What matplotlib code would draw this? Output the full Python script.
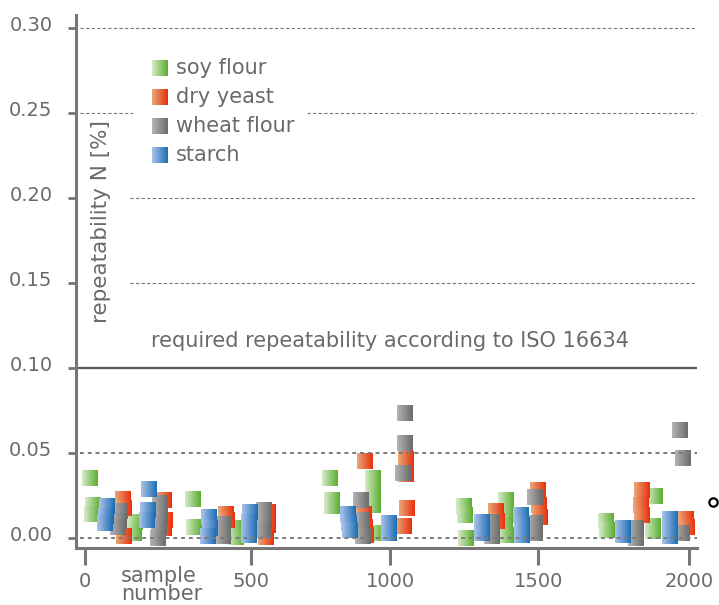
import numpy as np
import matplotlib
matplotlib.use("Agg")
import matplotlib.pyplot as plt
import matplotlib.transforms as mtransforms
from matplotlib.path import Path
from matplotlib.collections import PathCollection
from matplotlib.colors import to_rgb
from matplotlib.lines import Line2D

# values: sample number and repeatability N [%]
soy_x = [15, 24, 21, 150, 148, 325, 328, 452, 455, 784, 791, 791, 939, 939, 939, 950,
         1250, 1253, 1257, 1392, 1392, 1389, 1392, 1725, 1728, 1887, 1881, 1881]
soy_y = [0.0353, 0.0194, 0.0141, 0.0094, 0.0029, 0.0229, 0.0065, 0.0059, 0.0006,
         0.0353, 0.0224, 0.0188, 0.0353, 0.0282, 0.0194, 0.0029, 0.0188, 0.0135, 0.0000,
         0.0224, 0.0141, 0.0076, 0.0018, 0.0100, 0.0047, 0.0247, 0.0071, 0.0041]

yeast_x = [114, 117, 117, 238, 241, 238, 425, 428, 561, 561, 554, 910, 906, 910, 914,
           1054, 1054, 1057, 1047, 1358, 1361, 1500, 1503, 1507, 1844, 1841, 1844, 1990, 1993]
yeast_y = [0.0229, 0.0176, 0.0012, 0.0224, 0.0106, 0.0059, 0.0141, 0.0106, 0.0153,
           0.0076, 0.0006, 0.0453, 0.0141, 0.0065, 0.0018, 0.0465, 0.0376, 0.0176,
           0.0071, 0.0159, 0.0100, 0.0282, 0.0194, 0.0124, 0.0282, 0.0194, 0.0135,
           0.0112, 0.0065]

wheat_x = [105, 102, 99, 226, 226, 223, 220, 416, 416, 547, 547, 543, 896, 899, 903,
           1051, 1051, 1044, 1345, 1345, 1490, 1490, 1490, 1970, 1980, 1825, 1825, 1977]
wheat_y = [0.0159, 0.0100, 0.0065, 0.0206, 0.0135, 0.0065, 0.0000, 0.0082, 0.0012,
           0.0165, 0.0106, 0.0047, 0.0224, 0.0106, 0.0012, 0.0735, 0.0559, 0.0382,
           0.0094, 0.0012, 0.0241, 0.0088, 0.0029, 0.0635, 0.0471, 0.0059, 0.0000, 0.0029]

starch_x = [66, 63, 60, 193, 190, 187, 373, 377, 370, 497, 494, 494, 849, 853, 856,
            996, 996, 1311, 1311, 1443, 1446, 1446, 1781, 1781, 1937, 1937, 1937]
starch_y = [0.0188, 0.0129, 0.0088, 0.0288, 0.0165, 0.0106, 0.0124, 0.0059, 0.0012,
            0.0153, 0.0094, 0.0018, 0.0141, 0.0088, 0.0047, 0.0088, 0.0029, 0.0094,
            0.0029, 0.0135, 0.0076, 0.0018, 0.0059, 0.0018, 0.0112, 0.0059, 0.0012]

labels = ["soy flour", "dry yeast", "wheat flour", "starch"]
x_ticks = [0, 500, 1000, 1500, 2000]
y_ticks = [0.00, 0.05, 0.10, 0.15, 0.20, 0.25, 0.30]
required = 0.10

# (light, dark) ends of the colour gradient of each series
grad = {
    "soy flour": ("#d3e9c4", "#5cae32"),
    "dry yeast": ("#e8a676", "#e8320e"),
    "wheat flour": ("#b4b2b4", "#6c6c6c"),
    "starch": ("#a8c0e8", "#1f6fb6"),
}

# the sample axis of the original is not evenly spaced
scale_x = [-1000, 0, 500, 1000, 1500, 2000, 3000]
scale_u = [-332, 0, 166, 305, 453, 604, 906]


def fwd(x):
    return np.interp(x, scale_x, scale_u)


def inv(u):
    return np.interp(u, scale_u, scale_x)


def gradient_squares(ax, x, y, c0, c1, size=133, transform=None, n=16):
    # each square is n overlapping strips, lighter on the left
    c0, c1 = np.array(to_rgb(c0)), np.array(to_rgb(c1))
    paths, cols = [], []
    for i in range(n):
        x0 = -0.5 + i / n
        paths.append(Path([(x0, -0.5), (0.5, -0.5), (0.5, 0.5), (x0, 0.5), (x0, -0.5)], closed=True))
        cols.append(c0 + (c1 - c0) * i / (n - 1))
    offsets = np.repeat(np.column_stack([x, y]), n, axis=0)
    coll = PathCollection(paths, sizes=[size], facecolors=cols, edgecolors="none",
                          linewidths=0, offsets=offsets,
                          offset_transform=transform if transform is not None else ax.transData)
    coll.set_transform(mtransforms.IdentityTransform())
    ax.add_collection(coll, autolim=False)


plt.rcParams["font.family"] = ["DejaVu Sans"]
txt = "#6a6a6a"
axc = "#767676"
fs = 15

fig = plt.figure(figsize=(7.19, 6.05), dpi=100)
ax = fig.add_axes([76 / 719, 57 / 605, 621 / 719, 533 / 605])
ax.set_xscale("function", functions=(fwd, inv))
ax.set_xlim(-27, 2026)
ax.set_ylim(-0.0059, 0.3076)

# grid lines
top = dict(color="#7a7a7a", lw=0.8, ls=(0, (3, 2)))
low = dict(color="#7a7a7a", lw=1.4, ls=(0, (2, 2)))
ax.axhline(0.30, 0.0064, 1, **top)
ax.axhline(0.25, 0.0064, 0.092, **top)
ax.axhline(0.25, 0.372, 1, **top)
ax.axhline(0.20, 0.087, 1, **top)
ax.axhline(0.15, 0.087, 1, **top)
ax.axhline(0.05, 0.0064, 1, **low)
ax.axhline(0.00, 0.0064, 1, **low)
ax.axhline(required, 0, 1, color="#5a5a5a", lw=1.6)

ax.text(0.5056, 0.388, "required repeatability according to ISO 16634",
        transform=ax.transAxes, ha="center", va="center", fontsize=fs, color=txt)

series = [("soy flour", soy_x, soy_y), ("dry yeast", yeast_x, yeast_y),
          ("wheat flour", wheat_x, wheat_y), ("starch", starch_x, starch_y)]
for name, xs, ys in series:
    gradient_squares(ax, xs, ys, *grad[name])

# legend
leg_y = [0.9006, 0.8462, 0.7917, 0.7373]
for name, ly in zip(labels, leg_y):
    gradient_squares(ax, [0.1345], [ly], *grad[name], size=133, transform=ax.transAxes)
    ax.text(0.161, ly, name, transform=ax.transAxes, ha="left", va="center",
            fontsize=fs, color=txt)

# axes
for s in ["top", "right"]:
    ax.spines[s].set_visible(False)
for s in ["left", "bottom"]:
    ax.spines[s].set_color(axc)
    ax.spines[s].set_linewidth(2.2)
ax.set_yticks(y_ticks)
ax.set_yticklabels([f"{v:.2f}" for v in y_ticks])
ax.set_xticks(x_ticks)
ax.set_xticklabels([str(v) for v in x_ticks])
ax.tick_params(axis="y", length=6, width=2, color=axc, pad=11, labelsize=14, labelcolor=txt)
ax.tick_params(axis="x", length=12, width=2.2, color=axc, pad=5, labelsize=14, labelcolor=txt)
# labels in the original sit a little above their ticks
for lab in ax.get_yticklabels():
    lab.set_transform(lab.get_transform() + mtransforms.ScaledTranslation(0, 3 / 72, fig.dpi_scale_trans))

fig.text(101 / 719, 1 - 221 / 605, "repeatability N [%]", rotation=90,
         ha="center", va="center", fontsize=fs + 0.5, color=txt)
fig.text(121 / 719, 1 - 585 / 605, "sample\nnumber", ha="left", va="center",
         fontsize=fs, color=txt, linespacing=0.88)

# stray circle at the right edge of the original
fig.add_artist(Line2D([713 / 719], [1 - 502 / 605], marker="o", mfc="none", mec="black",
                      ms=6, mew=1.6, transform=fig.transFigure))

fig.savefig("out.png", dpi=100)
